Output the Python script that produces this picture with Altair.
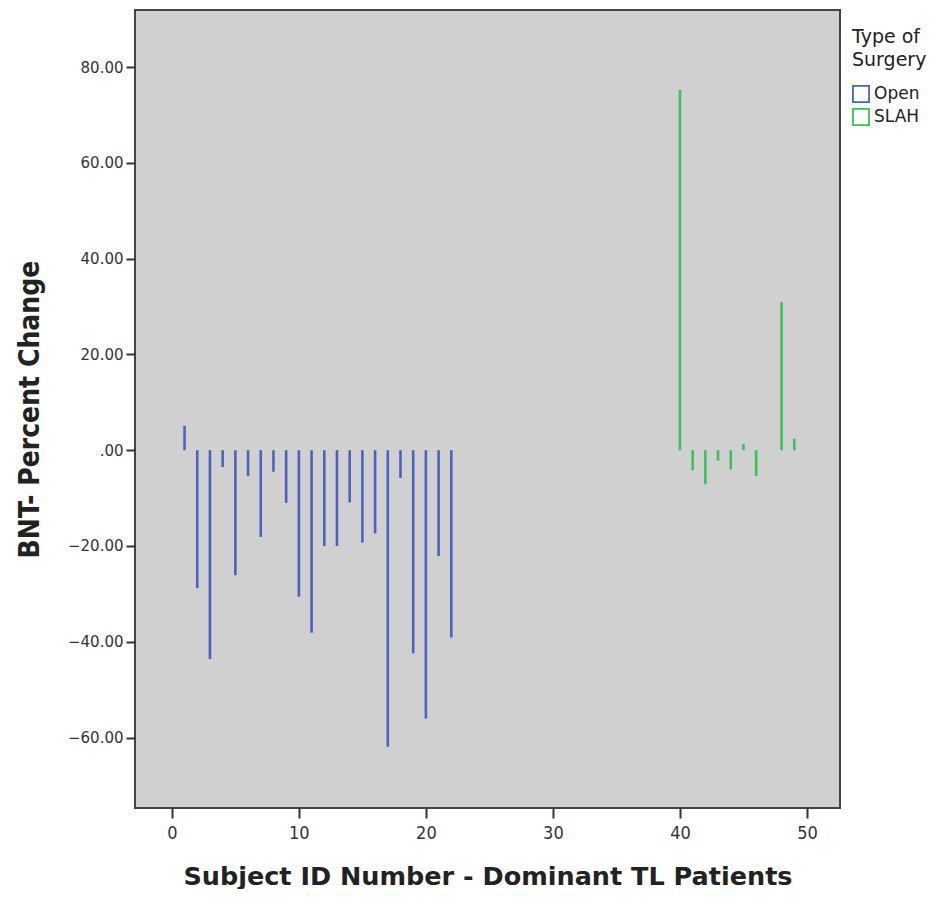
import altair as alt
import pandas as pd

open_ids = list(range(1, 23))
open_vals = [5.1, -28.8, -43.6, -3.5, -26.1, -5.4, -18.1, -4.5, -11.0, -30.6, -38.1,
             -20.0, -20.0, -10.9, -19.3, -17.4, -61.9, -5.8, -42.4, -56.0, -22.1, -39.1]
slah_ids = [40, 41, 42, 43, 44, 45, 46, 48, 49]
slah_vals = [75.2, -4.2, -7.1, -2.2, -4.0, 1.25, -5.4, 30.9, 2.4]

df = pd.DataFrame({
    "id": open_ids + slah_ids,
    "val": open_vals + slah_vals,
    "surgery": ["Open"] * len(open_ids) + ["SLAH"] * len(slah_ids),
})
df["base"] = 0.0

chart = alt.Chart(df).mark_rule(strokeWidth=2.6).encode(
    x=alt.X("id:Q", scale=alt.Scale(domain=[-2.9, 52.6], nice=False, zero=False),
            axis=alt.Axis(values=[0, 10, 20, 30, 40, 50], title="Subject ID Number - Dominant TL Patients",
                          grid=False, domain=False, tickSize=10, tickWidth=2, tickColor="#333",
                          labelFont="DejaVu Sans Condensed", labelFontSize=18, labelColor="#333",
                          labelPadding=6, titleFont="DejaVu Sans", titleFontWeight="bold",
                          titleFontSize=25.5, titleColor="#222", titlePadding=22)),
    y=alt.Y("val:Q", scale=alt.Scale(domain=[-74.7, 91.9], nice=False, zero=False),
            axis=alt.Axis(values=[-60, -40, -20, 0, 20, 40, 60, 80], title="BNT- Percent Change",
                          labelExpr="datum.value == 0 ? '.00' : format(datum.value, '.2f')",
                          grid=False, domain=False, tickSize=9, tickWidth=2, tickColor="#333",
                          labelFont="DejaVu Sans", labelFontSize=15, labelColor="#333",
                          labelPadding=3, titleFont="DejaVu Sans Condensed", titleFontWeight="bold",
                          titleFontSize=28, titleColor="#222", titlePadding=23)),
    y2="base:Q",
    color=alt.Color("surgery:N",
                    scale=alt.Scale(domain=["Open", "SLAH"], range=["#4a63c0", "#3cc05a"]),
                    legend=alt.Legend(title=["Type of", "Surgery"], orient="none",
                                      legendX=717, legendY=18, symbolType="square",
                                      symbolSize=260, symbolStrokeWidth=1.8,
                                      titleFont="DejaVu Sans", titleFontSize=19,
                                      titleFontWeight="normal", titleColor="#222",
                                      titleLineHeight=23, labelFont="DejaVu Sans",
                                      labelFontSize=17, labelColor="#222",
                                      rowPadding=-1, titlePadding=15, labelOffset=4)),
).properties(
    width=705, height=798,
    autosize=alt.AutoSizeParams(type="none"),
    padding={"left": 127, "top": 2, "right": 95, "bottom": 81},
    background="white",
).configure_view(
    fill="#d0d0d0", stroke="#444", strokeWidth=2
)

chart.save("out.html", embed_options={"renderer": "svg", "actions": False})
